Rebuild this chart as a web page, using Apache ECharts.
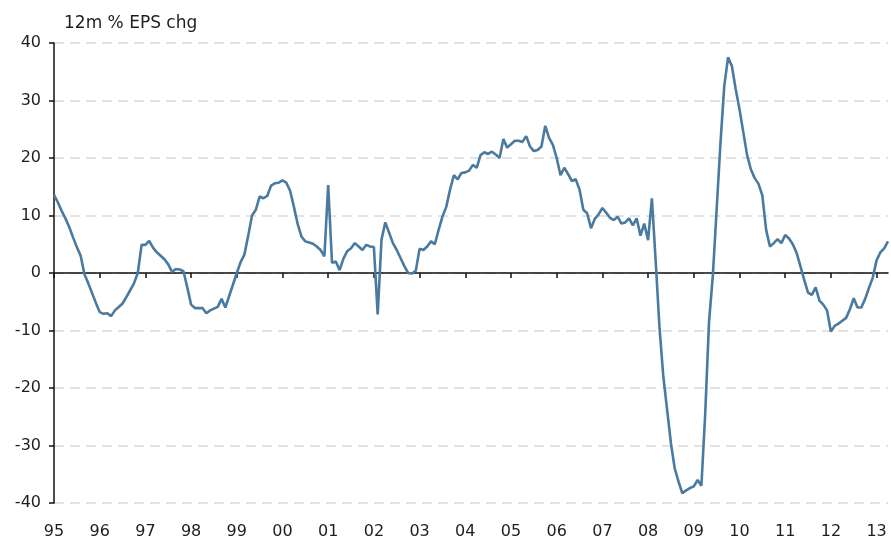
<!DOCTYPE html>
<html>
<head>
<meta charset="utf-8">
<title>12m % EPS chg</title>
<script src="https://cdn.jsdelivr.net/npm/echarts@6/dist/echarts.min.js"></script>
<style>
  html, body { margin: 0; padding: 0; background: #fff; }
  #chart { width: 891px; height: 543px; }
</style>
</head>
<body>
<div id="chart"></div>
<script>
// year labels shown under the axis, one per January
const yearLabels = ['95', '96', '97', '98', '99', '00', '01', '02', '03', '04',
  '05', '06', '07', '08', '09', '10', '11', '12', '13'];

// monthly 12m % change in EPS, Jan 1995 .. Apr 2013
const epsChg = [
  13.6, 12.3, 10.8, 9.5, 8.0, 6.2, 4.5, 3.0, -0.2, -1.8, -3.5, -5.2,          // 95
  -6.8, -7.1, -7.0, -7.5, -6.5, -5.9, -5.3, -4.2, -3.0, -1.8, 0.0, 4.9,      // 96
  4.9, 5.6, 4.4, 3.6, 3.0, 2.4, 1.5, 0.2, 0.7, 0.6, 0.3, -2.5,               // 97
  -5.5, -6.1, -6.1, -6.1, -7.0, -6.5, -6.2, -5.9, -4.5, -6.0, -4.0, -2.0,    // 98
  0.0, 1.9, 3.2, 6.5, 10.0, 11.0, 13.3, 13.0, 13.4, 15.2, 15.6, 15.7,        // 99
  16.1, 15.7, 14.3, 11.5, 8.5, 6.3, 5.5, 5.3, 5.1, 4.6, 4.0, 2.9,            // 00
  15.3, 1.8, 2.0, 0.5, 2.5, 3.8, 4.3, 5.2, 4.6, 4.0, 4.9, 4.6,               // 01
  4.5, -7.2, 5.8, 8.8, 7.0, 5.2, 4.0, 2.6, 1.2, 0.0, -0.1, 0.4,              // 02
  4.2, 4.0, 4.6, 5.5, 5.0, 7.5, 9.8, 11.5, 14.5, 17.0, 16.3, 17.4,           // 03
  17.5, 17.8, 18.8, 18.3, 20.5, 21.0, 20.7, 21.1, 20.6, 20.0, 23.3, 21.8,    // 04
  22.4, 23.0, 23.0, 22.8, 23.8, 22.0, 21.2, 21.4, 22.0, 25.6, 23.5, 22.3,    // 05
  20.0, 17.0, 18.3, 17.2, 16.0, 16.3, 14.5, 11.0, 10.4, 7.8, 9.4, 10.2,      // 06
  11.3, 10.5, 9.6, 9.2, 9.8, 8.6, 8.8, 9.5, 8.3, 9.5, 6.5, 8.6,              // 07
  5.7, 13.0, 2.0, -9.5, -18.0, -23.8, -29.6, -34.0, -36.3, -38.3, -37.8, -37.4, // 08
  -37.1, -36.0, -37.0, -24.5, -8.5, -0.5, 11.0, 22.5, 32.5, 37.5, 36.0, 32.0,   // 09
  28.5, 24.5, 20.5, 18.0, 16.5, 15.5, 13.5, 7.5, 4.6, 5.2, 5.9, 5.2,         // 10
  6.6, 6.0, 5.0, 3.5, 1.2, -1.2, -3.4, -3.8, -2.5, -4.8, -5.5, -6.5,         // 11
  -10.2, -9.2, -8.8, -8.3, -7.8, -6.3, -4.4, -6.0, -6.0, -4.5, -2.6, -0.8,   // 12
  2.2, 3.6, 4.3, 5.5                                                         // 13
];

// one category per month; January carries the two-digit year
const months = epsChg.map((_, i) => {
  const yr = yearLabels[Math.floor(i / 12)];
  return yr + '-' + String((i % 12) + 1).padStart(2, '0');
});

const isJanuary = (index) => index % 12 === 0;
const textFont = 'DejaVu Sans';
const textColor = '#1e1e1e';
const lineColor = '#4a7aa0';

const chart = echarts.init(document.getElementById('chart'));

const option = {
  animation: false,
  backgroundColor: '#ffffff',
  title: {
    text: '12m % EPS chg',
    left: 59,
    top: 10,
    textStyle: {
      fontFamily: textFont,
      fontSize: 17,
      fontWeight: 'normal',
      color: textColor,
    },
  },
  grid: {
    left: 54,
    right: 3,
    top: 43,
    bottom: 40,
  },
  xAxis: [
    {
      // labels along the bottom
      type: 'category',
      data: months,
      boundaryGap: false,
      position: 'bottom',
      axisLine: { show: false, onZero: false },
      axisTick: { show: false },
      splitLine: { show: false },
      axisLabel: {
        interval: (index) => isJanuary(index),
        formatter: (value) => value.slice(0, 2),
        margin: 21,
        fontFamily: textFont,
        fontSize: 16,
        color: textColor,
      },
    },
    {
      // solid zero line with the yearly ticks
      type: 'category',
      data: months,
      boundaryGap: false,
      position: 'bottom',
      axisLine: {
        show: true,
        onZero: true,
        lineStyle: { color: '#111', width: 1.5 },
      },
      axisTick: {
        show: true,
        interval: (index) => isJanuary(index),
        length: 5,
        lineStyle: { color: '#111', width: 1.5 },
      },
      axisLabel: { show: false },
      splitLine: { show: false },
    },
  ],
  yAxis: {
    type: 'value',
    min: -40,
    max: 40,
    interval: 10,
    axisLine: {
      show: true,
      lineStyle: { color: '#111', width: 1.5 },
    },
    axisTick: {
      show: true,
      length: 5,
      lineStyle: { color: '#111', width: 1.5 },
    },
    axisLabel: {
      margin: 13,
      fontFamily: textFont,
      fontSize: 16,
      color: textColor,
    },
    splitLine: {
      show: true,
      lineStyle: {
        color: '#d9d9d9',
        width: 1.5,
        type: [10, 6],
      },
    },
  },
  series: [
    {
      name: '12m % EPS chg',
      type: 'line',
      xAxisIndex: 0,
      data: epsChg,
      showSymbol: false,
      smooth: false,
      lineStyle: {
        color: lineColor,
        width: 2.6,
      },
      z: 3,
    },
  ],
};

chart.setOption(option);
</script>
</body>
</html>
